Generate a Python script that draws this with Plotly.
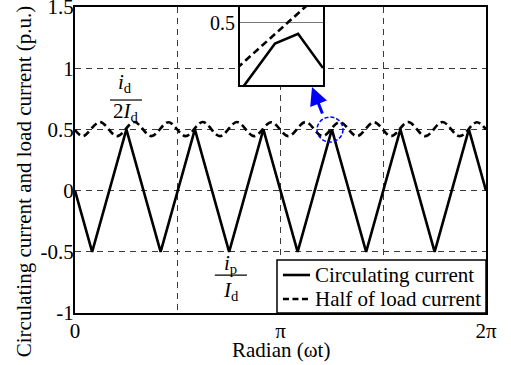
import math
import plotly.graph_objects as go

PI = math.pi
FONT = "Liberation Serif"

# ---------------- data ----------------
# circulating current (triangle) vertices; x given in multiples of pi/12
circ_x_pi12 = [0, 1, 3, 5, 7, 9, 11, 13, 15, 17, 19, 21, 23, 24]
circ_y = [0, -0.5, 0.5, -0.5, 0.5, -0.5, 0.5, -0.5, 0.5, -0.5, 0.5, -0.5, 0.5, 0]

# half of load current (12-pulse ripple), x in radians
load_x = [0.000, 0.120, 0.382, 0.644, 0.906, 1.167, 1.429, 1.691, 1.953, 2.214,
          2.476, 2.738, 3.000, 3.262, 3.524, 3.785, 4.047, 4.309, 4.571, 4.832,
          5.094, 5.356, 5.618, 5.880, 6.142, 6.283]
load_y = [0.495, 0.445, 0.560, 0.445, 0.560, 0.445, 0.558, 0.445, 0.560, 0.445,
          0.560, 0.445, 0.558, 0.445, 0.560, 0.445, 0.560, 0.445, 0.558, 0.445,
          0.560, 0.445, 0.560, 0.445, 0.558, 0.500]

# zoomed inset detail near the peak at 5*pi/4
inset_circ_x = [3.862, 3.919, 3.958, 4.000]
inset_circ_y = [0.350, 0.453, 0.475, 0.398]
inset_load_x = [3.855, 3.990]
inset_load_y = [0.398, 0.559]

x_ticks = [0, PI, 2 * PI]
x_ticktext = ["0", "π", "2π"]
x_minor_grid = [PI / 2, 3 * PI / 2]
y_ticks = [-1, -0.5, 0, 0.5, 1, 1.5]
y_ticktext = ["-1", "-0.5", "0", "0.5", "1", "1.5"]

series_names = ["Circulating current", "Half of load current"]

circ_x = [v * PI / 12 for v in circ_x_pi12]

SOLID = dict(color="black", width=2.6)
DASHED = dict(color="black", width=2.6, dash="7px,4px")

fig = go.Figure()
fig.add_trace(go.Scatter(x=circ_x, y=circ_y, mode="lines", name=series_names[0],
                         showlegend=False, line=SOLID))
fig.add_trace(go.Scatter(x=load_x, y=load_y, mode="lines", name=series_names[1],
                         showlegend=False,
                         line=dict(DASHED, shape="spline", smoothing=1.0)))

# inset
fig.add_trace(go.Scatter(x=inset_circ_x, y=inset_circ_y, mode="lines", showlegend=False,
                         xaxis="x2", yaxis="y2", line=SOLID))
fig.add_trace(go.Scatter(x=inset_load_x, y=inset_load_y, mode="lines", showlegend=False,
                         xaxis="x2", yaxis="y2", line=DASHED))

GRID_COLOR = "#3a3a3a"
GRID_DASH = "6px,5px"

fig.update_layout(
    width=511, height=365,
    margin=dict(l=75, r=25, t=7, b=52, autoexpand=False),
    paper_bgcolor="white", plot_bgcolor="white",
    font=dict(family=FONT, size=20, color="black"),
    xaxis=dict(range=[0, 2 * PI], tickvals=x_ticks, ticktext=x_ticktext,
               showline=True, linecolor="black", linewidth=2, mirror=True,
               zeroline=False, ticks="", ticklen=0, tickfont=dict(size=21),
               ticklabelstandoff=-2,
               ticklabeloverflow="allow", automargin=False,
               showgrid=True, gridcolor=GRID_COLOR, gridwidth=1, griddash=GRID_DASH,
               minor=dict(tickvals=x_minor_grid, showgrid=True, gridcolor=GRID_COLOR,
                          gridwidth=1, griddash=GRID_DASH, ticks="")),
    yaxis=dict(range=[-1, 1.5], tickvals=y_ticks, ticktext=y_ticktext,
               showline=True, linecolor="black", linewidth=2, mirror=True,
               zeroline=False, ticks="", ticklen=0, tickfont=dict(size=21),
               ticklabelstandoff=-5,
               ticklabeloverflow="allow", automargin=False,
               showgrid=True, gridcolor=GRID_COLOR, gridwidth=1, griddash=GRID_DASH),
    xaxis2=dict(domain=[0.4015, 0.6034], anchor="y2", range=[3.86, 4.00],
                showticklabels=False, showgrid=False, zeroline=False, automargin=False,
                showline=True, linecolor="black", linewidth=2, mirror=True),
    yaxis2=dict(domain=[0.745, 1.0], anchor="x2", range=[0.36, 0.535],
                tickvals=[0.5], ticktext=["0.5"], tickfont=dict(size=20),
                ticks="", ticklen=0, automargin=False, ticklabelstandoff=-1,
                showgrid=True, gridcolor="#777777", gridwidth=1.2, zeroline=False,
                showline=True, linecolor="black", linewidth=2, mirror=True),
    showlegend=False,
)

# axis titles
fig.add_annotation(x=-0.122, y=0.43, xref="paper", yref="paper", showarrow=False,
                   xanchor="center", yanchor="middle",
                   textangle=-90, text="Circulating current and load current (p.u.)",
                   font=dict(size=21))
fig.add_annotation(x=0.5, y=-0.122, xref="paper", yref="paper", showarrow=False,
                   xanchor="center", yanchor="middle",
                   text="Radian (ωt)", font=dict(size=21))

# legend box (drawn in paper coordinates)
fig.add_shape(type="rect", xref="paper", yref="paper", x0=0.4915, x1=1.0, y0=0.0, y1=0.1732,
              fillcolor="white", line=dict(color="black", width=1.5), layer="above")
legend_rows_y = [0.1242, 0.0458]
for name, style, ry in zip(series_names, [SOLID, dict(DASHED, dash="6px,3.5px")], legend_rows_y):
    fig.add_shape(type="line", xref="paper", yref="paper", x0=0.506, x1=0.5718,
                  y0=ry, y1=ry, line=style, layer="above")
    fig.add_annotation(x=0.579, y=ry, xref="paper", yref="paper", showarrow=False,
                       xanchor="left", yanchor="middle", text=name, font=dict(size=21))

# blue dashed circle + arrow
fig.add_shape(type="circle", xref="x", yref="y", x0=3.70, x1=4.097, y0=0.397, y1=0.601,
              line=dict(color="blue", width=1.5, dash="4px,2px"))
fig.add_annotation(x=3.623, y=0.846, ax=3.791, ay=0.618, xref="x", yref="y",
                   axref="x", ayref="y", text="", showarrow=True,
                   arrowhead=2, arrowsize=1.2, arrowwidth=3, arrowcolor="blue")

# fraction labels
fig.add_annotation(x=0.76, y=0.88, xref="x", yref="y", showarrow=False,
                   text="<i>i</i><sub>d</sub>", font=dict(size=21))
fig.add_shape(type="line", xref="x", yref="y", x0=0.535, x1=1.024, y0=0.74, y1=0.74,
              line=dict(color="black", width=1.2))
fig.add_annotation(x=0.78, y=0.645, xref="x", yref="y", showarrow=False,
                   text="2<i>I</i><sub>d</sub>", font=dict(size=21))

fig.add_annotation(x=2.38, y=-0.6, xref="x", yref="y", showarrow=False,
                   text="<i>i</i><sub>p</sub>", font=dict(size=21))
fig.add_shape(type="line", xref="x", yref="y", x0=2.138, x1=2.628, y0=-0.69, y1=-0.69,
              line=dict(color="black", width=1.2))
fig.add_annotation(x=2.38, y=-0.82, xref="x", yref="y", showarrow=False,
                   text="<i>I</i><sub>d</sub>", font=dict(size=21))

fig.write_html("out.html", config={"displayModeBar": False},
               post_script="document.body.style.margin='0';")
